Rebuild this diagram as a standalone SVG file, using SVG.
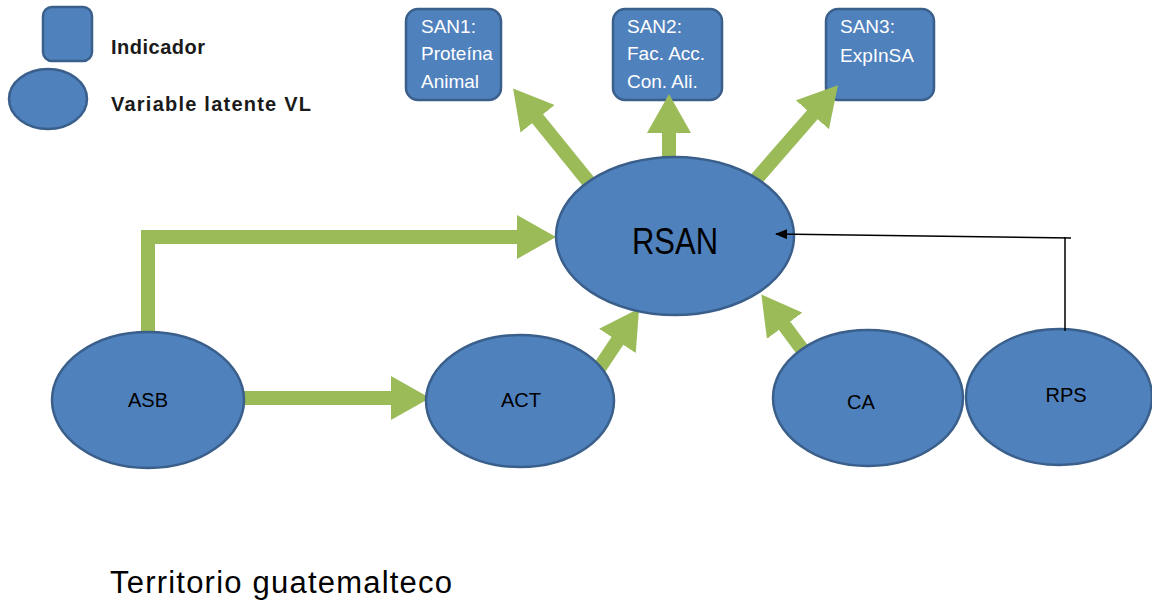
<svg xmlns="http://www.w3.org/2000/svg" width="1152" height="604" viewBox="0 0 1152 604">
  <style>
    .box { fill: #4F81BD; stroke: #3A5F8B; stroke-width: 2.5; }
    .lv { fill: #4F81BD; stroke: #3A5F8B; stroke-width: 2.5; }
    .ind { font-family: "Liberation Sans", Arial, sans-serif; font-size: 19px; fill: #ffffff; }
    .lbl { font-family: "Liberation Sans", Arial, sans-serif; font-size: 20px; fill: #000000; text-anchor: middle; }
    .big { font-size: 36px; }
    .leg { font-family: "Liberation Sans", Arial, sans-serif; font-size: 20px; font-weight: bold; fill: #1a1a1a; }
    .path { fill: none; stroke: #9BBB59; stroke-width: 14; stroke-linejoin: miter; }
    .thin { fill: none; stroke: #000000; stroke-width: 1.5; }
  </style>
  <defs>
    <marker id="head" markerUnits="userSpaceOnUse" markerWidth="40" markerHeight="44" refX="1" refY="22" orient="auto">
      <path d="M0,0 L39,22 L0,44 z" fill="#9BBB59"/>
    </marker>
    <marker id="tip" markerUnits="userSpaceOnUse" markerWidth="12" markerHeight="10" refX="11" refY="5" orient="auto">
      <path d="M0,0 L12,5 L0,10 z" fill="#000000"/>
    </marker>
  </defs>

  <!-- legend -->
  <g id="legend">
    <rect class="box" x="43" y="7" width="49" height="54" rx="9"/>
    <ellipse class="lv" cx="48" cy="99" rx="39" ry="30"/>
    <text class="leg" x="111" y="54" textLength="94">Indicador</text>
    <text class="leg" x="111" y="111" textLength="200">Variable latente VL</text>
  </g>

  <!-- indicators -->
  <g id="san1">
    <rect class="box" x="406" y="9" width="95" height="91" rx="12"/>
    <text class="ind" x="421" y="33">SAN1:</text>
    <text class="ind" x="421" y="60">Proteína</text>
    <text class="ind" x="421" y="88">Animal</text>
  </g>
  <g id="san2">
    <rect class="box" x="613" y="9" width="109" height="91" rx="12"/>
    <text class="ind" x="627" y="33">SAN2:</text>
    <text class="ind" x="627" y="60">Fac. Acc.</text>
    <text class="ind" x="627" y="88">Con. Ali.</text>
  </g>
  <g id="san3">
    <rect class="box" x="826" y="9" width="108" height="91" rx="12"/>
    <text class="ind" x="840" y="33">SAN3:</text>
    <text class="ind" x="840" y="62">ExpInSA</text>
  </g>

  <!-- thick path coefficients -->
  <g id="connectors">
    <path class="path" d="M592,186 L537,118" marker-end="url(#head)"/>
    <path class="path" d="M669,160 L669,132" marker-end="url(#head)"/>
    <path class="path" d="M752,184 L813,114" marker-end="url(#head)"/>
    <path class="path" d="M148,334 L148,237 L518,237" marker-end="url(#head)"/>
    <path class="path" d="M243,398 L392,398" marker-end="url(#head)"/>
    <path class="path" d="M598,370 L618,340" marker-end="url(#head)"/>
    <path class="path" d="M804,352 L784,325" marker-end="url(#head)"/>
  </g>

  <!-- latent variables -->
  <g id="rsan">
    <ellipse class="lv" cx="675" cy="236" rx="119" ry="79"/>
    <text class="lbl big" x="675" y="254" textLength="86" lengthAdjust="spacingAndGlyphs">RSAN</text>
  </g>
  <g id="asb">
    <ellipse class="lv" cx="148" cy="400" rx="96" ry="68"/>
    <text class="lbl" x="148" y="407">ASB</text>
  </g>
  <g id="act">
    <ellipse class="lv" cx="520" cy="401" rx="94" ry="66"/>
    <text class="lbl" x="521" y="407">ACT</text>
  </g>
  <g id="ca">
    <ellipse class="lv" cx="868" cy="398" rx="95" ry="68"/>
    <text class="lbl" x="861" y="409">CA</text>
  </g>
  <g id="rps">
    <ellipse class="lv" cx="1059" cy="397" rx="93" ry="68"/>
    <text class="lbl" x="1066" y="402">RPS</text>
  </g>

  <!-- thin link from RPS, drawn over the RSAN ellipse -->
  <g id="connectors-thin">
    <path class="thin" d="M1065,331 L1065,237"/>
    <path class="thin" d="M1071,238 L776,234" marker-end="url(#tip)"/>
  </g>

  <text id="territorio" x="110" y="593" font-family="Liberation Sans, Arial, sans-serif" font-size="31" fill="#000000" textLength="342">Territorio guatemalteco</text>
</svg>
